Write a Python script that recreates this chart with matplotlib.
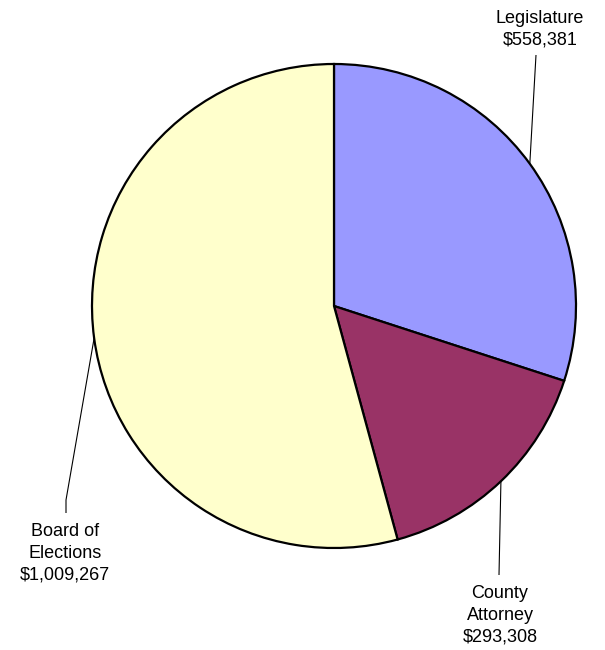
import numpy as np
import matplotlib
matplotlib.use("Agg")
import matplotlib.pyplot as plt

plt.rcParams['font.family'] = ['Liberation Sans', 'DejaVu Sans']

# Budget by department
departments = ["Legislature", "County Attorney", "Board of Elections"]
label_texts = ["Legislature", "County\nAttorney", "Board of\nElections"]
amounts = [558381, 293308, 1009267]
colors = ["#9999FF", "#993366", "#FFFFCC"]

W, H = 605, 650
fig = plt.figure(figsize=(W / 100, H / 100), dpi=100)
ax = fig.add_axes([0, 0, 1, 1])

# pixel geometry of the pie
cx, cy, R = 334, 306, 242

wedges, _ = ax.pie(amounts, colors=colors, startangle=90, counterclock=False,
                   radius=1, center=(0, 0),
                   wedgeprops=dict(edgecolor="black", linewidth=1.6))

ax.set_aspect("auto")
ax.set_xlim(-cx / R, (W - cx) / R)
ax.set_ylim(-(H - cy) / R, cy / R)
ax.axis("off")


def px(x, y):
    return ((x - cx) / R, (cy - y) / R)


# label positions (text centre) and leader line end points
label_pos = [px(540, 29), px(500, 615), px(65, 553)]
leader_end = [[px(536, 55)], [px(499, 575)], [px(66, 500), px(66, 513)]]

total = sum(amounts)
start = 90.0
for i, amt in enumerate(amounts):
    sweep = amt / total * 360
    mid = np.deg2rad(start - sweep / 2)
    start -= sweep
    pts = [(np.cos(mid), np.sin(mid))] + leader_end[i]
    xs, ys = zip(*pts)
    ax.plot(xs, ys, color="black", lw=0.8, solid_capstyle="butt")
    ax.text(label_pos[i][0], label_pos[i][1],
            f"{label_texts[i]}\n${amt:,}",
            ha="center", va="center", fontsize=13, linespacing=1.38)

fig.savefig("out.png", dpi=100)
